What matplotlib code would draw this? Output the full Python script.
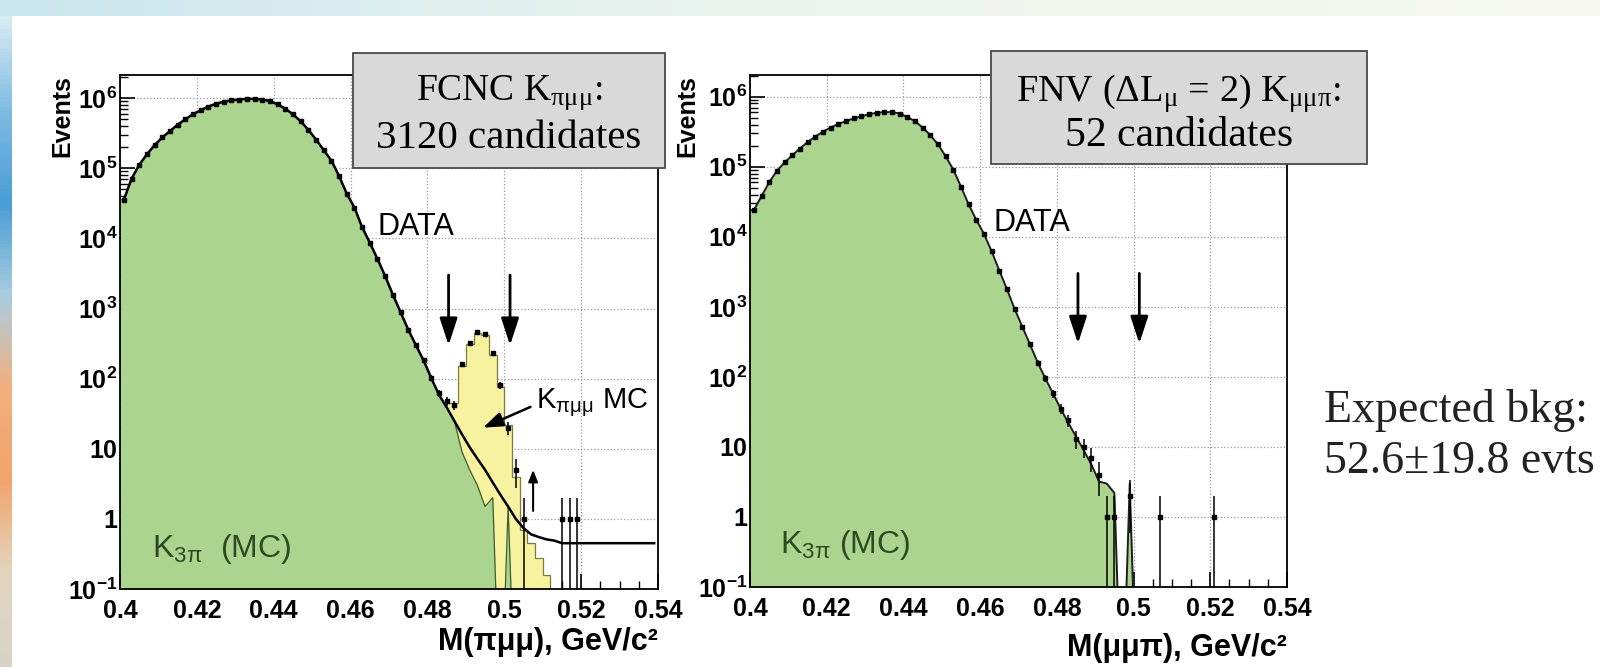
import numpy as np
import matplotlib
matplotlib.use('Agg')
import matplotlib.pyplot as plt
from matplotlib.ticker import MultipleLocator, LogLocator, FuncFormatter, NullFormatter
from matplotlib.patches import Rectangle
from matplotlib.colors import LinearSegmentedColormap

plt.rcParams['font.family'] = ['Liberation Sans', 'DejaVu Sans']
plt.rcParams['font.weight'] = 'bold'
plt.rcParams['axes.labelweight'] = 'bold'
plt.rcParams['axes.linewidth'] = 1.3

# 70 bins of 2 MeV between 0.40 and 0.54 GeV
mass_edges = np.round(np.linspace(0.40, 0.54, 71), 4)

# left panel: M(pi mu mu)
fit_left = [35500, 70800, 112000, 158000, 214000, 275000, 339000, 417000, 501000, 589000,
            676000, 759000, 832000, 891000, 933000, 955000, 977000, 977000, 955000, 912000,
            813000, 708000, 589000, 468000, 355000, 257000, 182000, 129000, 77600, 43600,
            27500, 14500, 8700, 5100, 2900, 1580, 890, 500, 300, 182,
            102, 59, 39, 25, 16, 10.5, 7.2, 5.0, 3.3, 2.2,
            1.5, 1.0, 0.74, 0.60, 0.55, 0.51, 0.49, 0.45, 0.45, 0.45,
            0.45, 0.45, 0.45, 0.45, 0.45, 0.45, 0.45, 0.45, 0.45, 0.45]
k3pi_left = [35500, 70800, 112000, 158000, 214000, 275000, 339000, 417000, 501000, 589000,
             676000, 759000, 832000, 891000, 933000, 955000, 977000, 977000, 955000, 912000,
             813000, 708000, 589000, 468000, 355000, 257000, 182000, 129000, 77600, 43600,
             27500, 14500, 8700, 5100, 2900, 1580, 890, 500, 300, 182,
             102, 59, 39, 25, 9, 5, 3, 1.5, 2.0, 0,
             1.5, 0, 0, 0, 0, 0, 0, 0, 0, 0,
             0, 0, 0, 0, 0, 0, 0, 0, 0, 0]
kpimumu_left = [0, 0, 0, 0, 0, 0, 0, 0, 0, 0,
                0, 0, 0, 0, 0, 0, 0, 0, 0, 0,
                0, 0, 0, 0, 0, 0, 0, 0, 0, 0,
                0, 0, 0, 0, 0, 0, 0, 0, 0, 0,
                0, 0, 6, 20, 140, 305, 447, 418, 218, 75,
                20, 4, 0.7, 0.45, 0.28, 0.16, 0, 0, 0, 0,
                0, 0, 0, 0, 0, 0, 0, 0, 0, 0]
data_left = [35500, 70800, 112000, 158000, 214000, 275000, 339000, 417000, 501000, 589000,
             676000, 759000, 832000, 891000, 933000, 955000, 977000, 977000, 955000, 912000,
             813000, 708000, 589000, 468000, 355000, 257000, 182000, 129000, 77600, 43600,
             27500, 14500, 8700, 5100, 2900, 1580, 890, 500, 300, 182,
             102, 62, 48, 42, 160, 320, 460, 430, 230, 80,
             20, 5, 1, 0, 0, 0, 0, 1, 1, 1,
             0, 0, 0, 0, 0, 0, 0, 0, 0, 0]

# right panel: M(mu mu pi)
k3pi_right = [24000, 38000, 60000, 87000, 115000, 145000, 182000, 224000, 269000, 316000,
              363000, 407000, 447000, 490000, 525000, 562000, 589000, 603000, 603000, 575000,
              513000, 447000, 363000, 282000, 209000, 141000, 91000, 52000, 29000, 17400,
              11000, 6200, 3300, 1780, 930, 520, 290, 160, 95, 58,
              35, 22, 14, 9, 5.6, 3.2, 3.0, 2.2, 0, 3.0,
              0, 0, 0, 0, 0, 0, 0, 0, 0, 0,
              0, 0, 0, 0, 0, 0, 0, 0, 0, 0]
data_right = [24000, 38000, 60000, 87000, 115000, 145000, 182000, 224000, 269000, 316000,
              363000, 407000, 447000, 490000, 525000, 562000, 589000, 603000, 603000, 575000,
              513000, 447000, 363000, 282000, 209000, 141000, 91000, 52000, 29000, 17400,
              11000, 6200, 3300, 1780, 930, 520, 290, 160, 95, 58,
              35, 24, 13, 10, 7, 4, 1, 1, 0, 2,
              0, 0, 0, 1, 0, 0, 0, 0, 0, 0,
              1, 0, 0, 0, 0, 0, 0, 0, 0, 0]

signal_window = [0.4855, 0.5015]   # arrows, GeV

green = '#abd48f'
yellow = '#f7f2a0'

centers = 0.5 * (mass_edges[:-1] + mass_edges[1:])
half_bin = 0.5 * (mass_edges[1] - mass_edges[0])
x_fill = np.r_[mass_edges[0], centers, mass_edges[-1]]


def safe(v):
    v = np.asarray(v, dtype=float)
    return np.where(v > 0, v, 1e-3)


def padded(v):
    v = safe(v)
    return np.r_[v[0], v, v[-1]]


def log_label(v, pos):
    if v < 0.09 or v > 1.5e6:
        return ''
    n = int(round(np.log10(v)))
    if n == 0:
        return '1'
    if n == 1:
        return '10'
    return r'$\mathdefault{10^{%d}}$' % n


def setup_panel(ax, ytop):
    ax.set_xlim(0.40, 0.54)
    ax.set_yscale('log')
    ax.set_ylim(0.1, ytop)
    ax.xaxis.set_major_locator(MultipleLocator(0.02))
    ax.xaxis.set_minor_locator(MultipleLocator(0.005))
    ax.xaxis.set_major_formatter(FuncFormatter(lambda v, p: f'{v:g}' if 0.399 < v < 0.541 else ''))
    ax.yaxis.set_major_locator(LogLocator(base=10, numticks=20))
    ax.yaxis.set_minor_locator(LogLocator(base=10, subs=np.arange(2, 10), numticks=20))
    ax.yaxis.set_major_formatter(FuncFormatter(log_label))
    ax.yaxis.set_minor_formatter(NullFormatter())
    ax.tick_params(which='major', direction='in', length=11, width=1.2, labelsize=18)
    ax.tick_params(which='minor', direction='in', length=5.5, width=1.0)
    ax.tick_params(axis='y', pad=2)
    ax.tick_params(axis='x', pad=7)
    ax.grid(True, which='major', ls=':', color='#9a9a9a', lw=0.9)
    ax.set_axisbelow(True)


def draw_data(ax, counts):
    n = np.asarray(counts, dtype=float)
    m = n > 0
    err = np.sqrt(n[m])
    low = np.where(n[m] - err > 0, err, n[m] - 1e-3)
    ax.errorbar(centers[m], n[m], xerr=0.5 * half_bin, yerr=[low, err], fmt='s', ms=3.4,
                color='k', elinewidth=1.1, capsize=0, zorder=5)


fig = plt.figure(figsize=(16, 6.67), dpi=100)

# slide template decoration
bg = fig.add_axes([0, 0, 1, 1], zorder=-10)
bg.set_xlim(0, 1)
bg.set_ylim(0, 1)
bg.axis('off')
top_cmap = LinearSegmentedColormap.from_list('top', ['#c9e6ee', '#e4f2ef', '#f1f6ee', '#f7f8f2'])
bg.imshow(np.linspace(0, 1, 200)[None, :], cmap=top_cmap, extent=[0, 1, 1 - 16 / 667, 1], aspect='auto')
side_cmap = LinearSegmentedColormap.from_list('side', ['#d8d4c6', '#e2d6bf', '#f2a46b', '#f3b07e',
                                                       '#a9cde0', '#4a9dd6', '#7fbbe2', '#d6ecf2'])
bg.imshow(np.linspace(0, 1, 200)[:, None], cmap=side_cmap, origin='lower',
          extent=[0, 12 / 1600, 0, 1 - 16 / 667], aspect='auto')

axL = fig.add_axes([120 / 1600, 1 - 589 / 667, 538 / 1600, 514 / 667])
axR = fig.add_axes([750 / 1600, 1 - 587 / 667, 537 / 1600, 512 / 667])
setup_panel(axL, 2.14e6)
setup_panel(axR, 2.04e6)

# left panel
k3pi_l = np.array(k3pi_left, dtype=float)
sig_l = np.array(kpimumu_left, dtype=float)
yellow_top = np.where(sig_l > 0, k3pi_l + sig_l, 1e-3)
axL.stairs(yellow_top, mass_edges, baseline=1e-3, fill=True, color=yellow, zorder=1)
axL.stairs(yellow_top, mass_edges, baseline=1e-3, color='#7d7a3a', lw=0.9, zorder=1.5)
axL.fill_between(x_fill, padded(k3pi_l), 1e-3, color=green, lw=0, zorder=2)
axL.plot(x_fill, padded(k3pi_l), color='#3d5f2d', lw=0.9, zorder=2.5)
axL.plot(centers, fit_left, color='k', lw=1.8, zorder=4)
draw_data(axL, data_left)

# right panel
axR.fill_between(x_fill, padded(k3pi_right), 1e-3, color=green, lw=0, zorder=2)
axR.plot(x_fill, padded(k3pi_right), color='#1e1e1e', lw=1.4, zorder=2.5)
draw_data(axR, data_right)

arrow_kw = dict(arrowstyle='-|>,head_length=0.55,head_width=0.18', color='k', lw=2,
                mutation_scale=30, shrinkA=0, shrinkB=0)
for ax in (axL, axR):
    for xc in signal_window:
        ax.annotate('', xy=(xc, 300), xytext=(xc, 3000), arrowprops=arrow_kw, zorder=6)

axL.annotate('', xy=(0.5075, 5), xytext=(0.5075, 1.3),
             arrowprops=dict(arrowstyle='-|>,head_length=0.5,head_width=0.2', color='k', lw=1.5,
                             mutation_scale=14, shrinkA=0, shrinkB=0), zorder=6)
axL.annotate(r'$\mathdefault{K_{\pi\mu\mu}}$ MC', xy=(0.4945, 20), xytext=(0.5082, 45),
             fontsize=21, fontweight='normal', va='center', ha='left',
             arrowprops=dict(arrowstyle='-|>,head_length=0.6,head_width=0.22', color='k', lw=1.8,
                             mutation_scale=20, shrinkA=2, shrinkB=0, relpos=(0, 0.45)), zorder=6)

axL.text(0.478, 0.704, 'DATA', transform=axL.transAxes, fontsize=22, fontweight='normal',
         va='center', ha='left')
axR.text(0.454, 0.711, 'DATA', transform=axR.transAxes, fontsize=22, fontweight='normal',
         va='center', ha='left')
axL.text(0.059, 0.078, r'$\mathdefault{K_{3\pi}}$  (MC)', transform=axL.transAxes, fontweight='normal',
         fontsize=23, color='#2e4a22', va='center', ha='left', zorder=6)
axR.text(0.056, 0.082, r'$\mathdefault{K_{3\pi}}$ (MC)', transform=axR.transAxes, fontweight='normal',
         fontsize=23, color='#2e4a22', va='center', ha='left', zorder=6)

axL.set_ylabel('Events', loc='top', fontsize=18)
axL.yaxis.set_label_coords(-0.0855, 1.0)
axR.set_ylabel('Events', loc='top', fontsize=18)
axR.yaxis.set_label_coords(-0.095, 1.0)
axL.set_xlabel('M(πμμ), GeV/c²', loc='right', fontsize=22)
axL.xaxis.set_label_coords(1.0, -0.074)
axR.set_xlabel('M(μμπ), GeV/c²', loc='right', fontsize=22)
axR.xaxis.set_label_coords(1.0, -0.09)

# title boxes
serif = ['Liberation Serif', 'DejaVu Serif']
fig.add_artist(Rectangle((353 / 1600, 1 - 168 / 667), 312 / 1600, 115 / 667, transform=fig.transFigure,
                         facecolor='#d9d9d9', edgecolor='#4a4a4a', lw=1.3, zorder=20))
fig.text(509 / 1600, 1 - 93 / 667, r'FCNC $\mathdefault{K_{\pi\mu\mu}}$:', family=serif, weight='normal',
         fontsize=27, ha='center', va='center', zorder=21)
fig.text(509 / 1600, 1 - 138 / 667, '3120 candidates', family=serif, weight='normal',
         fontsize=29.5, ha='center', va='center', zorder=21)
fig.add_artist(Rectangle((991 / 1600, 1 - 164 / 667), 376 / 1600, 113 / 667, transform=fig.transFigure,
                         facecolor='#d9d9d9', edgecolor='#4a4a4a', lw=1.3, zorder=20))
fig.text(1179 / 1600, 1 - 94 / 667, r'FNV ($\mathdefault{\Delta L_{\mu}}$ = 2) $\mathdefault{K_{\mu\mu\pi}}$:',
         family=serif, weight='normal', fontsize=27.5, ha='center', va='center', zorder=21)
fig.text(1179 / 1600, 1 - 136 / 667, '52 candidates', family=serif, weight='normal',
         fontsize=30, ha='center', va='center', zorder=21)

fig.text(1324 / 1600, 1 - 411 / 667, 'Expected bkg:', family=serif, weight='normal',
         fontsize=33, color='#222222', ha='left', va='center')
fig.text(1324 / 1600, 1 - 462 / 667, '52.6±19.8 evts', family=serif, weight='normal',
         fontsize=33, color='#222222', ha='left', va='center')

fig.savefig('out.png', dpi=100)
